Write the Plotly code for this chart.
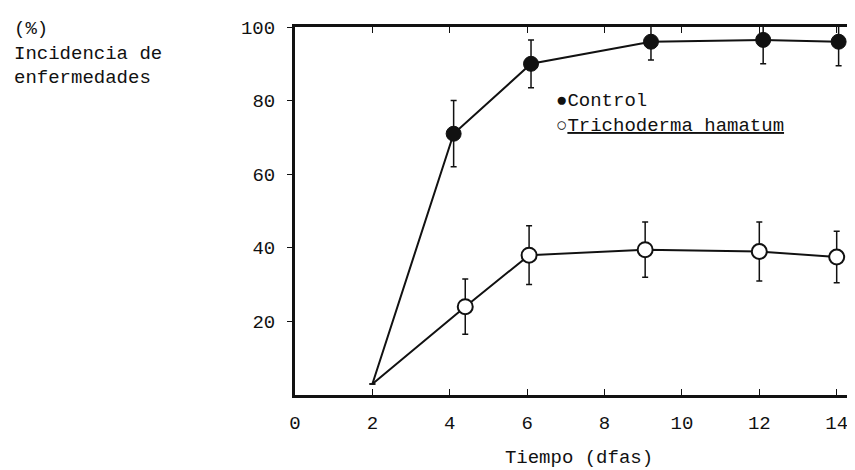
import plotly.graph_objects as go

# days after inoculation (points are hand-placed in the original, a bit off the even ticks)
control_dias = [2, 4.1, 6.1, 9.2, 12.1, 14.05]
control_inc = [3, 71, 90, 96, 96.5, 96]
control_err = [0, 9, 6.5, 5, 6.5, 6.5]

tricho_dias = [2, 4.4, 6.05, 9.05, 12.0, 14.0]
tricho_inc = [3, 24, 38, 39.5, 39, 37.5]
tricho_err = [0, 7.5, 8, 7.5, 8, 7]

x_ticks = [0, 2, 4, 6, 8, 10, 12, 14]
y_ticks = [20, 40, 60, 80, 100]

FONT = "Liberation Mono, Courier New, monospace"
INK = "#111111"
sizes = [0, 15, 15, 15, 15, 15]

fig = go.Figure()

fig.add_trace(go.Scatter(
    x=control_dias, y=control_inc,
    mode="lines+markers", name="Control",
    line=dict(color=INK, width=2),
    marker=dict(color=INK, size=sizes, opacity=1, line=dict(color=INK, width=1)),
    error_y=dict(type="data", array=control_err, color=INK, thickness=1.5, width=3),
    cliponaxis=False,
))
fig.add_trace(go.Scatter(
    x=tricho_dias, y=tricho_inc,
    mode="lines+markers", name="Trichoderma hamatum",
    line=dict(color=INK, width=2),
    marker=dict(color="white", size=sizes, opacity=1, line=dict(color=INK, width=2)),
    error_y=dict(type="data", array=tricho_err, color=INK, thickness=1.5, width=3),
    cliponaxis=False,
))

# y title written in the top-left corner, like the original figure
fig.add_annotation(x=-0.498, y=1.03, xref="paper", yref="paper", xanchor="left", yanchor="top",
                   text="(%)<br>Incidencia de<br>enfermedades", align="left", showarrow=False,
                   font=dict(family=FONT, size=19, color=INK))
fig.add_annotation(x=6.7, y=80, xanchor="left", yanchor="middle",
                   text="●Control", showarrow=False, font=dict(family=FONT, size=19, color=INK))
fig.add_annotation(x=6.7, y=73, xanchor="left", yanchor="middle",
                   text="○<u>Trichoderma hamatum</u>", showarrow=False,
                   font=dict(family=FONT, size=19, color=INK))

fig.update_layout(
    width=855, height=470,
    paper_bgcolor="white", plot_bgcolor="white",
    margin=dict(l=287, r=0, t=19, b=83),
    showlegend=False,
    font=dict(family=FONT, size=19, color=INK),
    xaxis=dict(
        range=[0, 14.68], tickvals=x_ticks, ticks="inside", ticklen=6, tickcolor=INK,
        showline=True, linewidth=3, linecolor=INK, mirror="ticks",
        showgrid=False, zeroline=False, ticklabelstandoff=8,
        title=dict(text="Tiempo (dfas)", font=dict(family=FONT, size=19), standoff=16),
        tickfont=dict(family=FONT, size=19),
    ),
    yaxis=dict(
        range=[0, 100], tickvals=y_ticks, ticks="outside", ticklen=5, tickcolor=INK,
        showline=True, linewidth=3, linecolor=INK,
        showgrid=False, zeroline=False, ticklabelstandoff=8,
        tickfont=dict(family=FONT, size=19),
    ),
)

fig.write_html("out.html")
